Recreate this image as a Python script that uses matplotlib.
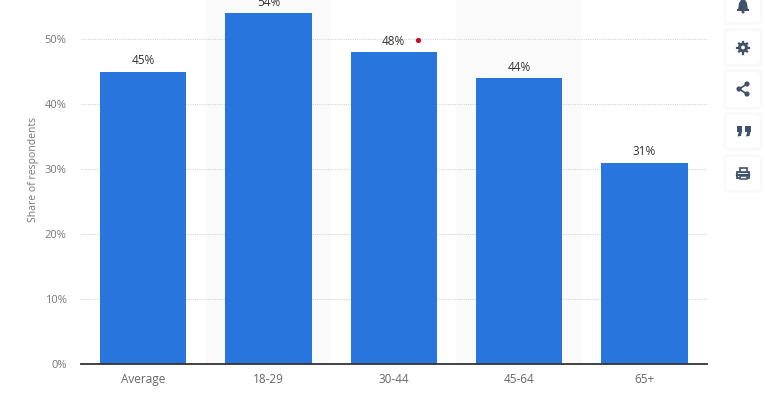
import matplotlib
matplotlib.use('Agg')
import matplotlib.pyplot as plt
from matplotlib.patches import FancyBboxPatch, Circle, Rectangle, Polygon

categories = ['Average', '18-29', '30-44', '45-64', '65+']
shares = [45, 54, 48, 44, 31]
yticks = [0, 10, 20, 30, 40, 50]
striped = [1, 3]

plt.rcParams['font.family'] = ['Open Sans', 'DejaVu Sans']

fig = plt.figure(figsize=(7.67, 4), dpi=100)
ax = fig.add_axes([80.5 / 767, 36 / 400, 626.5 / 767, 364 / 400])

x = list(range(len(categories)))
for i in striped:
    ax.axvspan(i - 0.5, i + 0.5, color='#fafafa', lw=0, zorder=0)
ax.bar(x, shares, width=0.69, color='#2875de', zorder=3)

ax.set_xlim(-0.5, 4.5)
ax.set_ylim(0, 56)
ax.set_xticks(x)
ax.set_xticklabels(categories, fontsize=8.5, color='#666666', va='center')
ax.set_yticks(yticks)
ax.set_yticklabels([str(v) + '%' for v in yticks], fontsize=8, color='#777777')
ax.tick_params(axis='both', length=0)
ax.tick_params(axis='x', pad=11)
ax.tick_params(axis='y', pad=10)
ax.set_ylabel('Share of respondents', fontsize=7.5, color='#777777')
ax.yaxis.set_label_coords(-0.066, 0.535)

ax.grid(axis='y', color='#d6d6d6', linestyle=(0, (1, 1)), linewidth=0.8, zorder=1)
for side in ['top', 'right', 'left']:
    ax.spines[side].set_visible(False)
ax.spines['bottom'].set_color('#333333')
ax.spines['bottom'].set_linewidth(1.3)
ax.spines['bottom'].set_zorder(4)

for xi, v in zip(x, shares):
    ax.annotate(str(v) + '%', (xi, v), xytext=(0, 3), textcoords='offset points',
                ha='center', va='bottom', fontsize=8.5, color='#333333', zorder=5)

# red marker next to the 30-44 label
ax.plot([2.197], [49.85], 'o', color='#c8102e', markersize=2.8, zorder=5)

# side toolbar, in pixel coordinates
ui = fig.add_axes([0, 0, 1, 1], zorder=10)
ui.set_xlim(0, 767)
ui.set_ylim(400, 0)
ui.axis('off')
ui.patch.set_alpha(0)

icon = '#3f5269'
boxes = [(-12, 22), (31, 64), (72, 107), (115, 148), (157, 190)]
for top, bottom in boxes:
    for grow, col in [(3, '#fbfbfc'), (1.5, '#f8f9fa')]:
        ui.add_patch(FancyBboxPatch((726, top), 34, bottom - top,
                                    boxstyle='round,pad=%g,rounding_size=4' % grow,
                                    fc=col, ec='none', zorder=1))
    ui.add_patch(FancyBboxPatch((726, top), 34, bottom - top,
                                boxstyle='round,pad=0,rounding_size=4',
                                fc='white', ec='none', zorder=2))

# bell
ui.add_patch(Polygon([(738, 10), (739, 3), (741, 0), (745, 0), (747, 3), (748, 10)],
                     fc=icon, ec='none', zorder=3))
ui.add_patch(Rectangle((737, 9), 12, 2, fc=icon, ec='none', zorder=3))
ui.add_patch(Circle((743, 12), 1.5, fc=icon, ec='none', zorder=3))
# gear
ui.add_patch(Circle((743, 47.5), 5, fc=icon, ec='none', zorder=3))
ui.plot([743, 743], [41.5, 53.5], color=icon, lw=1.6, zorder=3)
ui.plot([737, 749], [47.5, 47.5], color=icon, lw=1.6, zorder=3)
ui.plot([739, 747], [43.5, 51.5], color=icon, lw=1.6, zorder=3)
ui.plot([739, 747], [51.5, 43.5], color=icon, lw=1.6, zorder=3)
ui.add_patch(Circle((743, 47.5), 1.9, fc='white', ec='none', zorder=4))
# share
ui.plot([747, 739, 747], [84, 89, 94], color=icon, lw=1.2, zorder=3)
for px, py in [(747, 84), (739, 89), (747, 94)]:
    ui.add_patch(Circle((px, py), 2.6, fc=icon, ec='none', zorder=4))
# quotes
for qx in [736.5, 745]:
    ui.add_patch(Rectangle((qx, 126), 5.5, 5.5, fc=icon, ec='none', zorder=3))
    ui.add_patch(Polygon([(qx + 2.5, 131), (qx + 5.5, 131), (qx + 4.5, 136), (qx + 1, 136.5)],
                         fc=icon, ec='none', zorder=3))
# printer
ui.add_patch(Rectangle((737, 172), 12, 5.5, fc='white', ec=icon, lw=1.3, zorder=3))
ui.add_patch(Rectangle((739.5, 168), 7, 4, fc='white', ec=icon, lw=1.2, zorder=3))
ui.plot([737, 749], [174.5, 174.5], color=icon, lw=1.6, zorder=4)
ui.add_patch(Rectangle((739.5, 176), 7, 3, fc='white', ec=icon, lw=1.1, zorder=5))

fig.savefig('out.png', dpi=100)
